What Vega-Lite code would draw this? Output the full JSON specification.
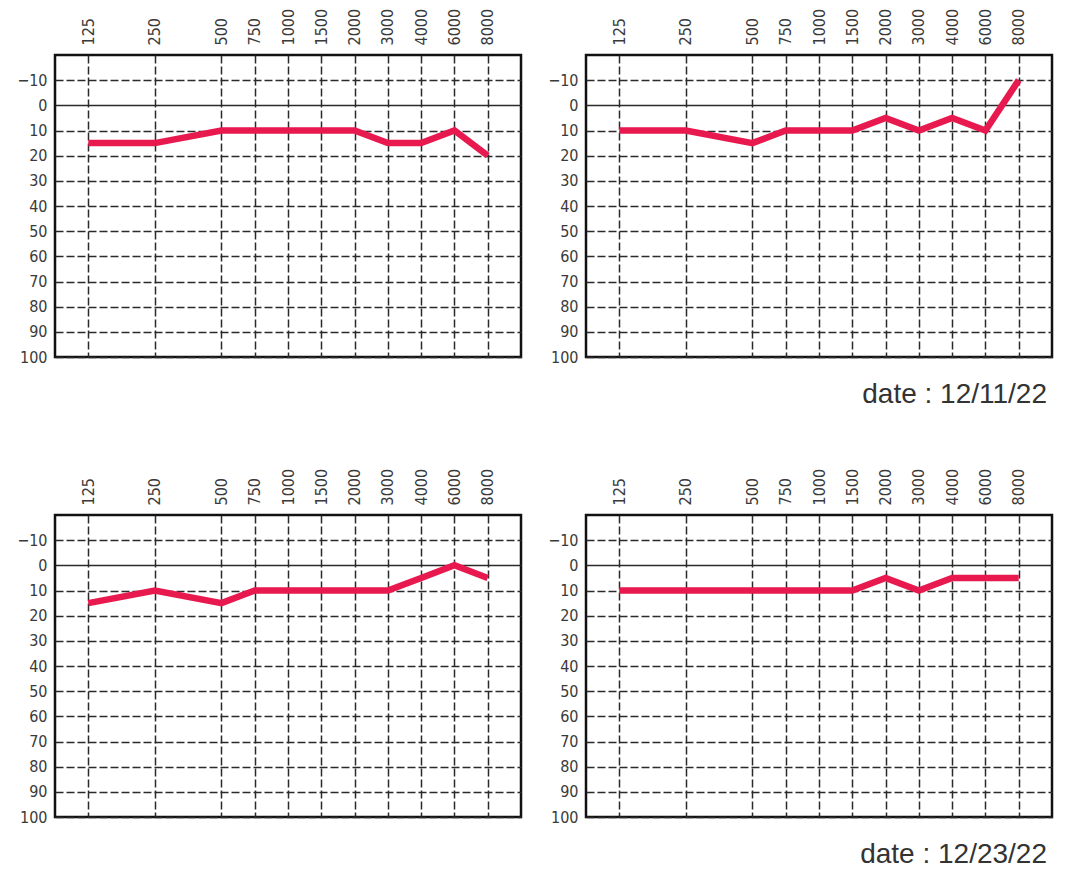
{
  "$schema": "https://vega.github.io/schema/vega-lite/v6.json",
  "background": "white",
  "padding": {"left": 15, "top": 7, "right": 5, "bottom": 5},
  "config": {
    "view": {"stroke": "#111", "strokeWidth": 2.5},
    "font": "Liberation Sans",
    "axis": {
      "title": null,
      "ticks": false,
      "domain": false,
      "grid": true,
      "gridColor": "#2a2a2a",
      "gridWidth": 1.5,
      "gridOpacity": 1,
      "labelFont": "Liberation Sans Narrow, DejaVu Sans Condensed, sans-serif",
      "labelFontSize": 16,
      "labelColor": "#3a3a3a"
    }
  },
  "data": {
    "values": [
      {"panel": 1, "freq": "125", "db": 15},
      {"panel": 1, "freq": "250", "db": 15},
      {"panel": 1, "freq": "500", "db": 10},
      {"panel": 1, "freq": "750", "db": 10},
      {"panel": 1, "freq": "1000", "db": 10},
      {"panel": 1, "freq": "1500", "db": 10},
      {"panel": 1, "freq": "2000", "db": 10},
      {"panel": 1, "freq": "3000", "db": 15},
      {"panel": 1, "freq": "4000", "db": 15},
      {"panel": 1, "freq": "6000", "db": 10},
      {"panel": 1, "freq": "8000", "db": 20},
      {"panel": 2, "freq": "125", "db": 10},
      {"panel": 2, "freq": "250", "db": 10},
      {"panel": 2, "freq": "500", "db": 15},
      {"panel": 2, "freq": "750", "db": 10},
      {"panel": 2, "freq": "1000", "db": 10},
      {"panel": 2, "freq": "1500", "db": 10},
      {"panel": 2, "freq": "2000", "db": 5},
      {"panel": 2, "freq": "3000", "db": 10},
      {"panel": 2, "freq": "4000", "db": 5},
      {"panel": 2, "freq": "6000", "db": 10},
      {"panel": 2, "freq": "8000", "db": -10},
      {"panel": 3, "freq": "125", "db": 15},
      {"panel": 3, "freq": "250", "db": 10},
      {"panel": 3, "freq": "500", "db": 15},
      {"panel": 3, "freq": "750", "db": 10},
      {"panel": 3, "freq": "1000", "db": 10},
      {"panel": 3, "freq": "1500", "db": 10},
      {"panel": 3, "freq": "2000", "db": 10},
      {"panel": 3, "freq": "3000", "db": 10},
      {"panel": 3, "freq": "4000", "db": 5},
      {"panel": 3, "freq": "6000", "db": 0},
      {"panel": 3, "freq": "8000", "db": 5},
      {"panel": 4, "freq": "125", "db": 10},
      {"panel": 4, "freq": "250", "db": 10},
      {"panel": 4, "freq": "500", "db": 10},
      {"panel": 4, "freq": "750", "db": 10},
      {"panel": 4, "freq": "1000", "db": 10},
      {"panel": 4, "freq": "1500", "db": 10},
      {"panel": 4, "freq": "2000", "db": 5},
      {"panel": 4, "freq": "3000", "db": 10},
      {"panel": 4, "freq": "4000", "db": 5},
      {"panel": 4, "freq": "6000", "db": 5},
      {"panel": 4, "freq": "8000", "db": 5}
    ]
  },
  "columns": 2,
  "bounds": "flush",
  "spacing": {"row": 158, "column": 65},
  "concat": [
    {
      "width": 466, "height": 302,
      "transform": [{"filter": "datum.panel === 1"}],
      "mark": {"type": "line", "color": "#E8194F", "strokeWidth": 6.5, "strokeCap": "butt", "strokeJoin": "miter"},
      "encoding": {
        "x": {"field": "freq", "type": "ordinal", "sort": null,
          "scale": {"type": "point", "padding": 1, "domain": ["125", "g1", "250", "g2", "500", "750", "1000", "1500", "2000", "3000", "4000", "6000", "8000"]},
          "axis": {"orient": "top", "labelAngle": -90, "labelPadding": 10, "gridDash": [8, 3], "values": ["125", "250", "500", "750", "1000", "1500", "2000", "3000", "4000", "6000", "8000"]}},
        "y": {"field": "db", "type": "quantitative",
          "scale": {"domain": [-20, 100], "reverse": true, "nice": false, "zero": false},
          "axis": {"values": [-10, 0, 10, 20, 30, 40, 50, 60, 70, 80, 90, 100], "labelPadding": 8,
            "gridDash": {"condition": {"test": "datum.value === 0", "value": [1, 0]}, "value": [8, 3]}}}
      }
    },
    {
      "width": 466, "height": 302,
      "title": {"text": "date : 12/11/22", "orient": "bottom", "anchor": "end", "fontSize": 28, "fontWeight": "normal", "color": "#333", "font": "Liberation Sans", "offset": 16, "dx": -5},
      "transform": [{"filter": "datum.panel === 2"}],
      "mark": {"type": "line", "color": "#E8194F", "strokeWidth": 6.5, "strokeCap": "butt", "strokeJoin": "miter"},
      "encoding": {
        "x": {"field": "freq", "type": "ordinal", "sort": null,
          "scale": {"type": "point", "padding": 1, "domain": ["125", "g1", "250", "g2", "500", "750", "1000", "1500", "2000", "3000", "4000", "6000", "8000"]},
          "axis": {"orient": "top", "labelAngle": -90, "labelPadding": 10, "gridDash": [8, 3], "values": ["125", "250", "500", "750", "1000", "1500", "2000", "3000", "4000", "6000", "8000"]}},
        "y": {"field": "db", "type": "quantitative",
          "scale": {"domain": [-20, 100], "reverse": true, "nice": false, "zero": false},
          "axis": {"values": [-10, 0, 10, 20, 30, 40, 50, 60, 70, 80, 90, 100], "labelPadding": 8,
            "gridDash": {"condition": {"test": "datum.value === 0", "value": [1, 0]}, "value": [8, 3]}}}
      }
    },
    {
      "width": 466, "height": 302,
      "transform": [{"filter": "datum.panel === 3"}],
      "mark": {"type": "line", "color": "#E8194F", "strokeWidth": 6.5, "strokeCap": "butt", "strokeJoin": "miter"},
      "encoding": {
        "x": {"field": "freq", "type": "ordinal", "sort": null,
          "scale": {"type": "point", "padding": 1, "domain": ["125", "g1", "250", "g2", "500", "750", "1000", "1500", "2000", "3000", "4000", "6000", "8000"]},
          "axis": {"orient": "top", "labelAngle": -90, "labelPadding": 10, "gridDash": [8, 3], "values": ["125", "250", "500", "750", "1000", "1500", "2000", "3000", "4000", "6000", "8000"]}},
        "y": {"field": "db", "type": "quantitative",
          "scale": {"domain": [-20, 100], "reverse": true, "nice": false, "zero": false},
          "axis": {"values": [-10, 0, 10, 20, 30, 40, 50, 60, 70, 80, 90, 100], "labelPadding": 8,
            "gridDash": {"condition": {"test": "datum.value === 0", "value": [1, 0]}, "value": [8, 3]}}}
      }
    },
    {
      "width": 466, "height": 302,
      "title": {"text": "date : 12/23/22", "orient": "bottom", "anchor": "end", "fontSize": 28, "fontWeight": "normal", "color": "#333", "font": "Liberation Sans", "offset": 16, "dx": -5},
      "transform": [{"filter": "datum.panel === 4"}],
      "mark": {"type": "line", "color": "#E8194F", "strokeWidth": 6.5, "strokeCap": "butt", "strokeJoin": "miter"},
      "encoding": {
        "x": {"field": "freq", "type": "ordinal", "sort": null,
          "scale": {"type": "point", "padding": 1, "domain": ["125", "g1", "250", "g2", "500", "750", "1000", "1500", "2000", "3000", "4000", "6000", "8000"]},
          "axis": {"orient": "top", "labelAngle": -90, "labelPadding": 10, "gridDash": [8, 3], "values": ["125", "250", "500", "750", "1000", "1500", "2000", "3000", "4000", "6000", "8000"]}},
        "y": {"field": "db", "type": "quantitative",
          "scale": {"domain": [-20, 100], "reverse": true, "nice": false, "zero": false},
          "axis": {"values": [-10, 0, 10, 20, 30, 40, 50, 60, 70, 80, 90, 100], "labelPadding": 8,
            "gridDash": {"condition": {"test": "datum.value === 0", "value": [1, 0]}, "value": [8, 3]}}}
      }
    }
  ]
}
